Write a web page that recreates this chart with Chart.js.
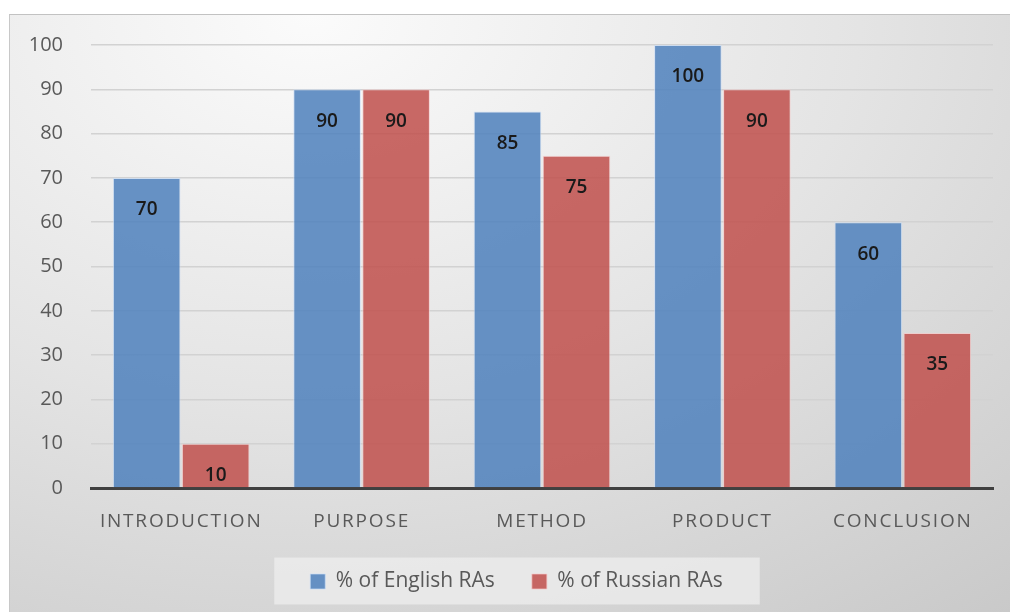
<!DOCTYPE html>
<html>
<head>
<meta charset="utf-8">
<script src="https://cdn.jsdelivr.net/npm/chart.js@4/dist/chart.umd.min.js"></script>
<style>
    body { margin: 0; background: #fff; }
    #wrap {
        position: absolute; left: 9px; top: 14px; width: 1001px; height: 598px;
        background: radial-gradient(ellipse 110% 130% at 30% 0%, #fbfbfb 0%, #e4e4e4 50%, #c9c9c9 100%);
        border-top: 1px solid #c2c2c2;
        border-left: 1px solid #c8c8c8;
        box-sizing: border-box;
    }
    canvas { position: absolute; left: 0; top: 0; }
</style>
</head>
<body>
<div id="wrap"><canvas id="chart" width="1000" height="597"></canvas></div>
<script>
const categories = ['INTRODUCTION', 'PURPOSE', 'METHOD', 'PRODUCT', 'CONCLUSION'];
const englishRAs = [70, 90, 85, 100, 60];
const russianRAs = [10, 90, 75, 90, 35];
const yTicks = [0, 10, 20, 30, 40, 50, 60, 70, 80, 90, 100];

const FONT = '"Open Sans", "Noto Sans", sans-serif';

// letter-spaced category labels
const spacedLabels = {
    id: 'spacedLabels',
    beforeDraw(chart) {
        const x = chart.scales.x;
        if (x._spaced) return;
        const orig = x.drawLabels.bind(x);
        x.drawLabels = function (area) {
            chart.ctx.save();
            chart.ctx.letterSpacing = '1.8px';
            orig(area);
            chart.ctx.restore();
        };
        x._spaced = true;
    },
};

// legend sits a bit right of the canvas centre in the original
const legendShift = {
    id: 'legendShift',
    afterLayout(chart) {
        if (!chart.legend) return;
        chart.legend.left += 15;
        chart.legend.right += 15;
    },
};

// light panel behind the legend
const legendPanel = {
    id: 'legendPanel',
    beforeDraw(chart) {
        const boxes = chart.legend && chart.legend.legendHitBoxes;
        if (!boxes || !boxes.length) return;
        const first = boxes[0];
        const last = boxes[boxes.length - 1];
        const cy = first.top + first.height / 2;
        const ctx = chart.ctx;
        ctx.save();
        ctx.fillStyle = 'rgba(238, 238, 238, 0.75)';
        ctx.fillRect(first.left - 36, cy - 24, (last.left + last.width) - first.left + 73, 47);
        ctx.restore();
    },
};

// value labels inside bar tops
const valueLabels = {
    id: 'valueLabels',
    afterDatasetsDraw(chart) {
        const ctx = chart.ctx;
        ctx.save();
        ctx.font = '600 19px ' + FONT;
        ctx.fillStyle = '#1a1a1a';
        ctx.textAlign = 'center';
        ctx.textBaseline = 'middle';
        chart.data.datasets.forEach((ds, i) => {
            chart.getDatasetMeta(i).data.forEach((bar, j) => {
                ctx.fillText(String(ds.data[j]), bar.x, bar.y + 32);
            });
        });
        ctx.restore();
    },
};

new Chart(document.getElementById('chart'), {
    type: 'bar',
    data: {
        labels: categories,
        datasets: [
            {
                label: '% of English RAs',
                data: englishRAs,
                backgroundColor: 'rgba(79, 129, 189, 0.86)',
                borderColor: 'rgba(200, 220, 245, 0.7)',
                borderWidth: 1,
                categoryPercentage: 0.765,
                barPercentage: 0.98,
            },
            {
                label: '% of Russian RAs',
                data: russianRAs,
                backgroundColor: 'rgba(192, 80, 77, 0.86)',
                borderColor: 'rgba(245, 200, 200, 0.7)',
                borderWidth: 1,
                categoryPercentage: 0.765,
                barPercentage: 0.98,
            },
        ],
    },
    plugins: [spacedLabels, legendShift, legendPanel, valueLabels],
    options: {
        responsive: false,
        animation: false,
        layout: {
            padding: { left: 0, right: 17, top: 30, bottom: 10 },
        },
        plugins: {
            tooltip: { enabled: false },
            legend: {
                position: 'bottom',
                labels: {
                    color: '#595959',
                    font: { family: FONT, size: 21 },
                    boxWidth: 15,
                    boxHeight: 15,
                    padding: 37,
                },
            },
        },
        scales: {
            x: {
                afterFit: (s) => { s.height = 46; },
                grid: { display: false, drawTicks: false },
                border: { color: '#404040', width: 3 },
                ticks: {
                    color: '#595959',
                    font: { family: FONT, size: 19 },
                    padding: 22,
                    maxRotation: 0,
                },
            },
            y: {
                min: 0,
                max: 100,
                afterFit: (s) => {
                    s.width = 81;
                    s.paddingTop = 0;
                    s.paddingBottom = 0;
                },
                afterBuildTicks: (s) => { s.ticks = yTicks.map((v) => ({ value: v })); },
                grid: { color: '#d2d2d2', lineWidth: 1.5, drawTicks: false },
                border: { display: false },
                ticks: {
                    color: '#595959',
                    font: { family: FONT, size: 20 },
                    padding: 28,
                },
            },
        },
    },
});
</script>
</body>
</html>
